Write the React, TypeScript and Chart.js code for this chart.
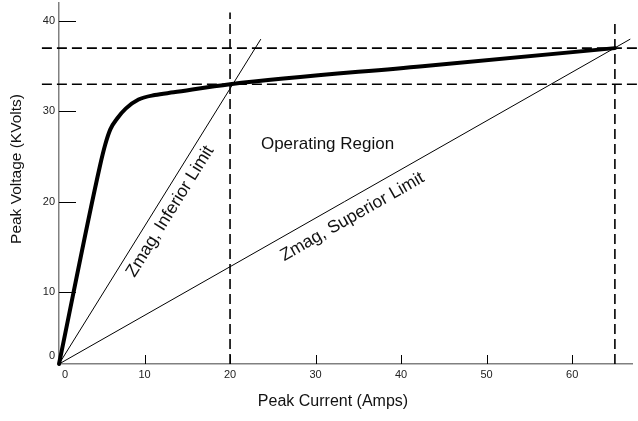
import React, { useEffect, useRef } from "react";
import { Chart, registerables } from "chart.js";

Chart.register(...registerables);

// Thick characteristic curve (Peak Current in A, Peak Voltage in kV)
const curveCurrent = [0, 4.8, 5.4, 6.0, 6.8, 7.8, 9.3, 11.2, 13.4, 20, 42.5, 65];
const curveVoltage = [2, 24, 26.3, 28, 29.2, 30.3, 31.3, 31.8, 32.1, 33, 35, 37];
// Impedance limit lines
const inferiorCurrent = [0, 23.6];
const inferiorVoltage = [2, 38];
const superiorCurrent = [0, 66.8];
const superiorVoltage = [2, 38];
// Dashed limit lines
const limitCurrents = [20, 65];
const limitCurrentTops = [40.95, 39.8];
const limitVoltages = [33, 37];
const limitVoltageSpan = [-2, 68.5];
// Axes
const xRange = [0, 67];
const yRange = [2, 42];
const xTickValues = [0.7, 10, 20, 30, 40, 50, 60];
const xTickLabels = ["0", "10", "20", "30", "40", "50", "60"];
const xMarkValues = [10, 20, 30, 40, 50, 60];
const yTickValues = [2.85, 10, 20, 30, 40];
const yTickLabels = ["0", "10", "20", "30", "40"];
const yMarkValues = [10, 20, 30, 40];
const xTitle = "Peak Current (Amps)";
const yTitle = "Peak Voltage (KVolts)";
// Text annotations (data coordinates)
const noteTexts = ["Operating Region", "Zmag, Inferior Limit", "Zmag, Superior Limit"];
const noteX = [31.4, 13.0, 34.3];
const noteY = [26.3, 18.9, 18.3];
const noteAlong = ["", "inferior", "superior"];

const FONT = "'Liberation Sans', Arial, Helvetica, sans-serif";

const pts = (xs: number[], ys: number[]) => xs.map((x, i) => ({ x, y: ys[i] }));

const overlay = {
  id: "overlay",
  afterDatasetsDraw(chart: any) {
    const { ctx, scales } = chart;
    const xs = scales.x;
    const ys = scales.y;
    const area = chart.chartArea;
    ctx.save();
    // inward tick marks
    ctx.strokeStyle = "#000";
    ctx.lineWidth = 1;
    ctx.beginPath();
    yMarkValues.forEach((v) => {
      const py = Math.round(ys.getPixelForValue(v)) + 0.5;
      ctx.moveTo(area.left, py);
      ctx.lineTo(area.left + 17, py);
    });
    xMarkValues.forEach((v) => {
      const px = Math.round(xs.getPixelForValue(v)) + 0.5;
      ctx.moveTo(px, area.bottom);
      ctx.lineTo(px, area.bottom - 9);
    });
    ctx.stroke();

    // annotations
    ctx.fillStyle = "#111";
    ctx.textAlign = "center";
    ctx.textBaseline = "middle";
    noteTexts.forEach((t, i) => {
      const px = xs.getPixelForValue(noteX[i]);
      const py = ys.getPixelForValue(noteY[i]);
      let ang = 0;
      if (noteAlong[i]) {
        const cx = noteAlong[i] === "inferior" ? inferiorCurrent : superiorCurrent;
        const cy = noteAlong[i] === "inferior" ? inferiorVoltage : superiorVoltage;
        const x0 = xs.getPixelForValue(cx[0]);
        const y0 = ys.getPixelForValue(cy[0]);
        const x1 = xs.getPixelForValue(cx[1]);
        const y1 = ys.getPixelForValue(cy[1]);
        ang = Math.atan2(y1 - y0, x1 - x0);
      }
      ctx.font = `${noteAlong[i] ? 17.5 : 17} px ${FONT}`.replace(" px", "px");
      ctx.save();
      ctx.translate(px, py);
      ctx.rotate(ang);
      ctx.fillText(t, 0, 0);
      ctx.restore();
    });

    // axis titles
    ctx.fillStyle = "#111";
    ctx.font = `16px ${FONT}`;
    ctx.fillText(xTitle, 333, 402);
    ctx.font = `15.5px ${FONT}`;
    ctx.save();
    ctx.translate(17, 169);
    ctx.rotate(-Math.PI / 2);
    ctx.fillText(yTitle, 0, 0);
    ctx.restore();
    ctx.restore();
  },
};

export default function App() {
  const ref = useRef<HTMLCanvasElement | null>(null);
  useEffect(() => {
    if (!ref.current) return;
    const thin = { borderColor: "#000", borderWidth: 1, pointRadius: 0, tension: 0, clip: false as any };
    const dashed = { borderColor: "#000", borderWidth: 1.6, borderDash: [10, 5], pointRadius: 0, tension: 0, clip: false as any };
    const chart = new Chart(ref.current, {
      type: "line",
      data: {
        datasets: [
          ...limitVoltages.map((v) => ({ ...dashed, data: pts(limitVoltageSpan, [v, v]) })),
          ...limitCurrents.map((c, i) => ({ ...dashed, data: pts([c, c], [yRange[0], limitCurrentTops[i]]) })),
          { ...thin, data: pts(inferiorCurrent, inferiorVoltage) },
          { ...thin, data: pts(superiorCurrent, superiorVoltage) },
          {
            borderColor: "#000",
            borderWidth: 4,
            pointRadius: 0,
            cubicInterpolationMode: "monotone",
            clip: false as any,
            borderCapStyle: "round",
            data: pts(curveCurrent, curveVoltage),
          },
        ],
      },
      options: {
        animation: false,
        responsive: false,
        maintainAspectRatio: false,
        layout: { padding: { top: 3, right: 6, left: 0, bottom: 0 } },
        plugins: { legend: { display: false }, tooltip: { enabled: false } },
        scales: {
          x: {
            type: "linear",
            min: xRange[0],
            max: xRange[1],
            afterBuildTicks: (s: any) => {
              s.ticks = xTickValues.map((v) => ({ value: v }));
            },
            afterFit: (s: any) => {
              s.height = 57;
              s.paddingLeft = 0;
              s.paddingRight = 0;
            },
            grid: { display: false, drawTicks: false },
            border: { display: true, color: "#808080", width: 1.5 },
            ticks: {
              autoSkip: false,
              maxRotation: 0,
              padding: 4,
              color: "#222",
              font: { family: FONT, size: 11 },
              callback: (_v: any, i: number) => xTickLabels[i],
            },
          },
          y: {
            type: "linear",
            min: yRange[0],
            max: yRange[1],
            afterBuildTicks: (s: any) => {
              s.ticks = yTickValues.map((v) => ({ value: v }));
            },
            afterFit: (s: any) => {
              s.width = 59;
              s.paddingTop = 0;
              s.paddingBottom = 0;
            },
            grid: { display: false, drawTicks: false },
            border: { display: true, color: "#808080", width: 1.5 },
            ticks: {
              autoSkip: false,
              padding: 4,
              color: "#222",
              font: { family: FONT, size: 11 },
              callback: (_v: any, i: number) => yTickLabels[i],
            },
          },
        },
      },
      plugins: [overlay],
    });
    return () => chart.destroy();
  }, []);
  return (
    <div style={{ position: "fixed", left: 0, top: 0, width: 638, height: 421, background: "#fff" }}>
      <canvas ref={ref} width={638} height={421} style={{ display: "block" }} />
    </div>
  );
}
